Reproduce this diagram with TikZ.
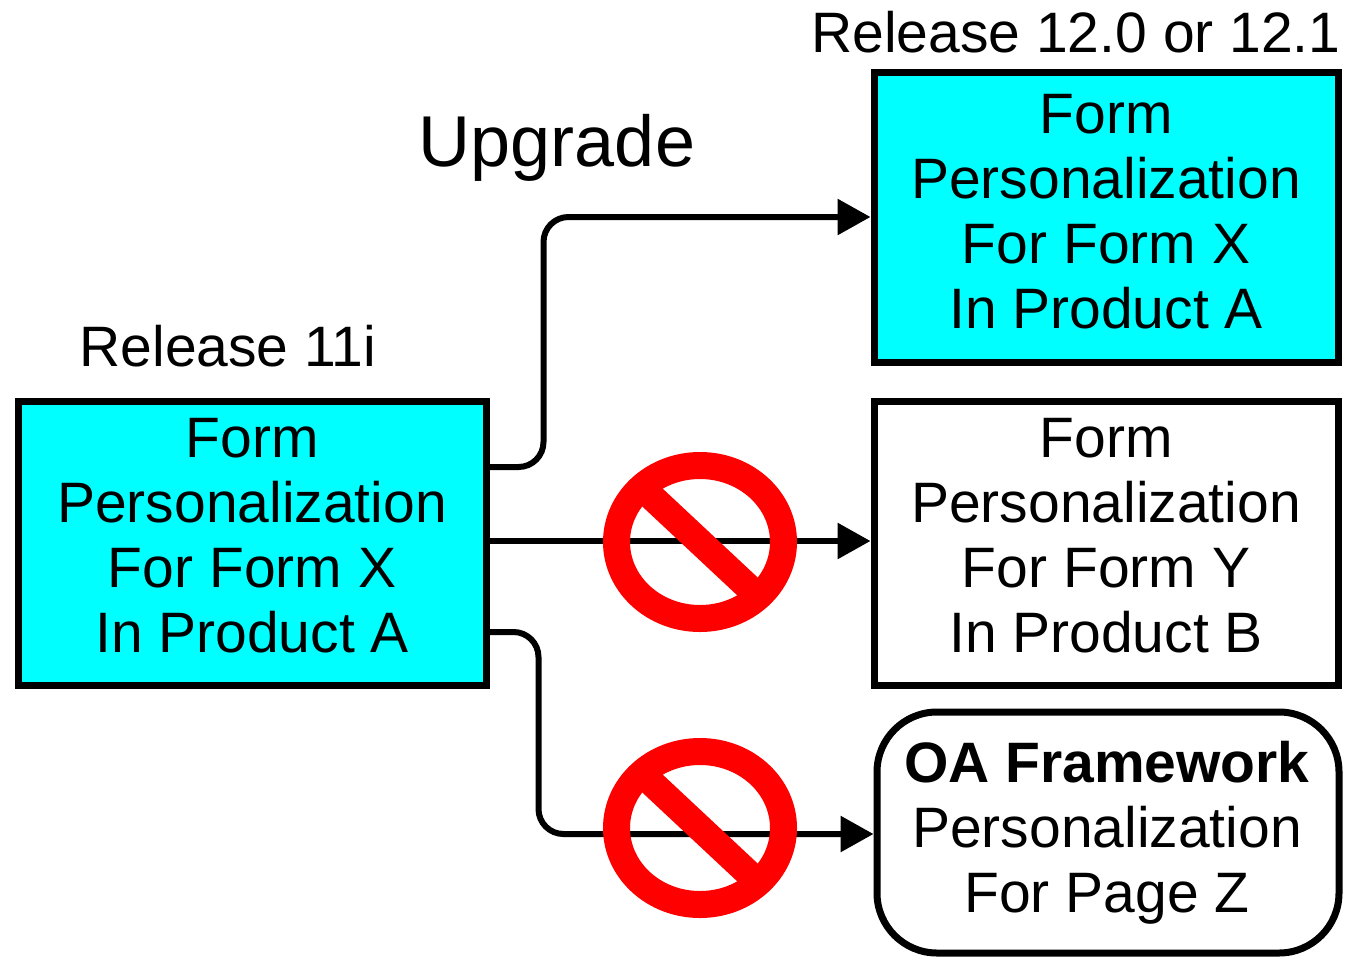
\documentclass[tikz,border=0pt]{standalone}
\usepackage{fontspec}
\setmainfont{Liberation Sans}
\usetikzlibrary{arrows.meta}
\newcommand\bxfont{\fontsize{57}{65}\selectfont}
\newcommand\upfont{\fontsize{72}{80}\selectfont}
\definecolor{boxcyan}{RGB}{0,255,255}
\definecolor{nored}{RGB}{255,0,0}
\begin{document}
\begin{tikzpicture}[x=1pt,y=1pt,
  box/.style={draw=black, line width=7pt, minimum width=468pt, minimum height=284pt, inner sep=0pt},
  rbox/.style={box, rounded corners=60pt, minimum height=241pt},
  btext/.style={font=\bxfont, align=center, inner sep=0pt, anchor=north},
  lbl/.style={font=\bxfont, inner sep=0pt, anchor=base},
  conn/.style={draw=black, line width=6pt, -{Triangle[length=33pt,width=35pt]}},
  nosign/.style={draw=nored, line width=27pt}
]
\useasboundingbox (0,0) rectangle (1346,-959);
% boxes
\node[box, fill=boxcyan] (L) at (252,-543) {};
\node[box, fill=boxcyan, minimum width=464pt, minimum height=290pt] (R1) at (1106,-217) {};
\node[box, fill=white, minimum width=464pt] (R2) at (1106,-543) {};
\node[rbox, fill=white, minimum width=462pt] (R3) at (1108,-832.5) {};
% box texts
\node[btext] (Lt) at (252,-418) {Form\\Personalization\\For Form X\\In Product A};
\node[btext] (R1t) at (1106,-94) {Form\\Personalization\\For Form X\\In Product A};
\node[btext] (R2t) at (1106,-418) {Form\\Personalization\\For Form Y\\In Product B};
\node[btext] (R3t) at (1107,-741) {\textbf{OA Framework}\\Personalization\\For Page Z};
% labels
\node[lbl] (rel11) at (228,-366) {Release 11i};
\node[lbl] (rel12) at (1076,-52) {Release 12.0 or 12.1};
\node[lbl, font=\upfont] (upg) at (557,-166) {Upgrade};
% connectors
\draw[conn, rounded corners=25pt] ([yshift=76pt]L.east) -- ++(54,0) |- (R1.west);
\draw[conn] ([yshift=2pt]L.east) -- ([yshift=2pt]R2.west);
\draw[conn, rounded corners=25pt] ([yshift=-89pt]L.east) -- ++(49,0) |- ([yshift=-1.5pt]R3.west);
% no signs
\coordinate (n1) at (700,-542);
\coordinate (n2) at (700,-828);
\foreach \c in {n1,n2}{
  \draw[nosign] (\c) ellipse [x radius=83.5pt, y radius=76.5pt];
  \draw[nosign] ([shift={(-62,58)}]\c) -- ([shift={(62,-58)}]\c);
}
\end{tikzpicture}
\end{document}
